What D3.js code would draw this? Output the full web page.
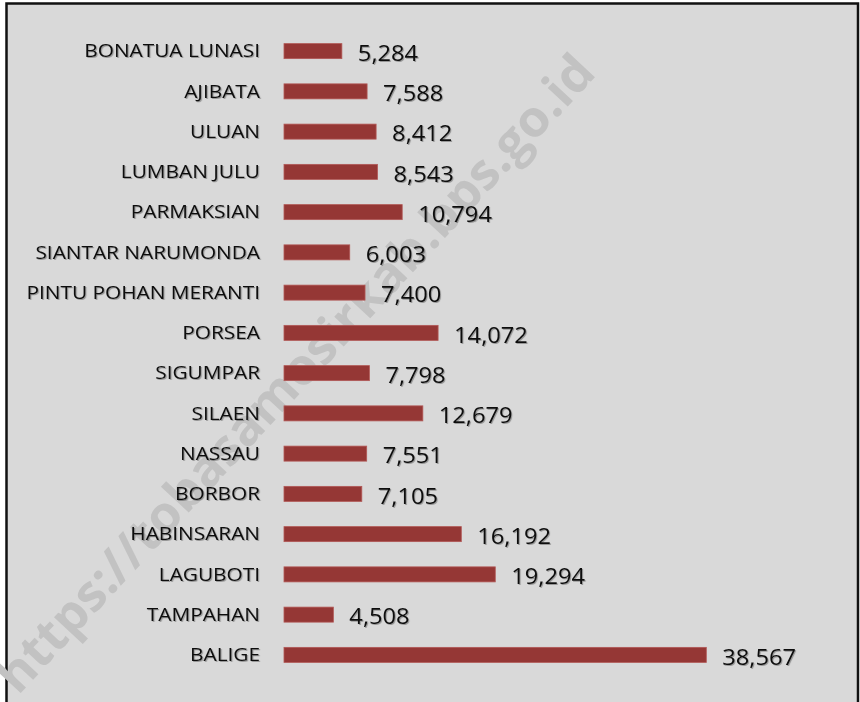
<!DOCTYPE html>
<html lang="en">
  <head>
    <meta charset="utf-8" />
    <title>Penduduk per Kecamatan</title>
    <script src="https://d3js.org/d3.v7.min.js"></script>
    <style>
      body { margin: 0; background: #fff; }
    </style>
  </head>
  <body>
    <svg id="chart" width="860" height="702"></svg>
    <script>
    // Kecamatan (top to bottom) and their values
    var kecamatan = ["BONATUA LUNASI", "AJIBATA", "ULUAN", "LUMBAN JULU", "PARMAKSIAN",
      "SIANTAR NARUMONDA", "PINTU POHAN MERANTI", "PORSEA", "SIGUMPAR", "SILAEN",
      "NASSAU", "BORBOR", "HABINSARAN", "LAGUBOTI", "TAMPAHAN", "BALIGE"];
    var penduduk = [5284, 7588, 8412, 8543, 10794, 6003, 7400, 14072, 7798, 12679,
      7551, 7105, 16192, 19294, 4508, 38567];
    var watermark = "https://tobasamosirkab.bps.go.id";

    var svg = d3.select("#chart"),
      width = +svg.attr("width"),
      height = +svg.attr("height");

    // text shadow like the original
    var defs = svg.append("defs");
    defs.append("filter")
        .attr("id", "shadow")
        .attr("x", "-10%").attr("y", "-30%")
        .attr("width", "120%").attr("height", "160%")
      .append("feDropShadow")
        .attr("dx", 1).attr("dy", 1)
        .attr("stdDeviation", 0.6)
        .attr("flood-color", "#000")
        .attr("flood-opacity", 0.3);

    // frame
    svg.append("rect")
      .attr("x", 6.5).attr("y", 3.5)
      .attr("width", 851.5).attr("height", 760)
      .attr("fill", "#d9d9d9")
      .attr("stroke", "#111")
      .attr("stroke-width", 2.5);

    // watermark sits behind everything
    svg.append("text")
      .attr("transform", "translate(298,376) rotate(-47)")
      .attr("text-anchor", "middle")
      .attr("dominant-baseline", "middle")
      .attr("textLength", 850)
      .attr("lengthAdjust", "spacingAndGlyphs")
      .style("font-family", "'Open Sans', sans-serif")
      .style("font-weight", "bold")
      .style("font-size", "50px")
      .style("fill", "#c2c2c2")
      .text(watermark);

    var x = d3.scaleLinear()
      .domain([0, 40000])
      .range([284, 722]);

    var y = d3.scaleBand()
      .domain(kecamatan)
      .range([31, 675])
      .paddingInner(0.627)
      .paddingOuter(0.3135);

    var rows = svg.append("g")
      .selectAll("g")
      .data(kecamatan)
      .enter()
      .append("g");

    rows.append("rect")
      .attr("x", x(0))
      .attr("y", function(d) { return y(d); })
      .attr("width", function(d, i) { return x(penduduk[i]) - x(0); })
      .attr("height", y.bandwidth())
      .attr("fill", "#953735")
      .attr("stroke", "#b25856")
      .attr("stroke-width", 0.8);

    // category labels (the original font is wide, so stretch a little)
    rows.append("text")
      .attr("transform", function(d) {
        return "translate(260," + (y(d) + y.bandwidth() / 2) + ") scale(1.19,1)";
      })
      .attr("dy", "0.36em")
      .attr("text-anchor", "end")
      .attr("filter", "url(#shadow)")
      .style("font-family", "'Open Sans', sans-serif")
      .style("font-size", "17.5px")
      .style("fill", "#111")
      .text(function(d) { return d; });

    // value labels
    rows.append("text")
      .attr("transform", function(d, i) {
        return "translate(" + (x(penduduk[i]) + 16) + "," + (y(d) + y.bandwidth() / 2 + 2) + ") scale(1.1,1)";
      })
      .attr("dy", "0.36em")
      .attr("filter", "url(#shadow)")
      .style("font-family", "'Open Sans', sans-serif")
      .style("font-size", "21.5px")
      .style("fill", "#111")
      .text(function(d, i) { return d3.format(",")(penduduk[i]); });
    </script>
  </body>
</html>
